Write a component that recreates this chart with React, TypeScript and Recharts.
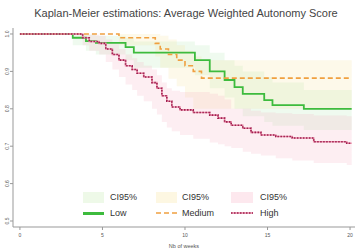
import React from "react";
import { ComposedChart, Line, Area, XAxis, YAxis } from "recharts";

// Low group (green)
const lowT = [0, 3.2, 4.0, 4.6, 6.4, 6.9, 10.6, 11.5, 12.4, 13.0, 13.5, 14.8, 15.3, 17.2, 20.1];
const lowS = [1.0, 0.99, 0.981, 0.976, 0.965, 0.95, 0.93, 0.9, 0.877, 0.858, 0.84, 0.823, 0.81, 0.8, 0.8];
const lowHi = [1.0, 1.0, 0.998, 0.995, 0.99, 0.98, 0.97, 0.95, 0.93, 0.915, 0.9, 0.885, 0.87, 0.85, 0.85];
const lowLo = [1.0, 0.97, 0.955, 0.945, 0.93, 0.91, 0.89, 0.855, 0.83, 0.8, 0.78, 0.765, 0.755, 0.743, 0.743];

// Medium group (orange)
const medT = [0, 6.0, 8.2, 8.5, 9.0, 9.5, 10.0, 10.5, 11.0, 20.1];
const medS = [1.0, 0.99, 0.975, 0.96, 0.945, 0.93, 0.915, 0.9, 0.882, 0.882];
const medHi = [1.0, 1.0, 1.0, 0.995, 0.985, 0.97, 0.955, 0.94, 0.93, 0.93];
const medLo = [1.0, 0.97, 0.94, 0.91, 0.88, 0.86, 0.83, 0.8, 0.8, 0.8];

// High group (maroon)
const highT = [0, 3.8, 4.2, 4.8, 5.2, 5.6, 6.0, 6.4, 6.8, 7.1, 7.5, 8.0, 8.3, 8.6, 8.9, 9.2, 9.7, 10.5, 11.5, 12.0, 12.4, 12.8, 13.5, 14.0, 14.6, 15.5, 16.5, 17.8, 19.8, 20.1];
const highS = [1.0, 0.99, 0.98, 0.975, 0.96, 0.945, 0.93, 0.915, 0.905, 0.895, 0.885, 0.87, 0.855, 0.835, 0.82, 0.805, 0.797, 0.79, 0.783, 0.775, 0.765, 0.756, 0.748, 0.737, 0.73, 0.726, 0.722, 0.712, 0.708, 0.708];
const highHi = [1.0, 1.0, 0.998, 0.995, 0.985, 0.975, 0.96, 0.945, 0.935, 0.925, 0.915, 0.905, 0.89, 0.87, 0.855, 0.848, 0.845, 0.845, 0.84, 0.835, 0.825, 0.8, 0.8, 0.795, 0.79, 0.788, 0.786, 0.782, 0.78, 0.78];
const highLo = [1.0, 0.97, 0.955, 0.945, 0.925, 0.905, 0.885, 0.865, 0.85, 0.835, 0.82, 0.8, 0.785, 0.765, 0.75, 0.74, 0.73, 0.72, 0.71, 0.705, 0.7, 0.695, 0.685, 0.68, 0.675, 0.668, 0.662, 0.655, 0.65, 0.65];

const xTicks = [0, 5, 10, 15, 20];
const yTicks = [0.5, 0.6, 0.7, 0.8, 0.9, 1.0];

const build = (t: number[], s: number[], lo: number[], hi: number[]) =>
  t.map((tt, i) => ({ t: tt, s: s[i], ci: [lo[i], hi[i]] }));

const lowData = build(lowT, lowS, lowLo, lowHi);
const medData = build(medT, medS, medLo, medHi);
const highData = build(highT, highS, highLo, highHi);

const FONT = "'Liberation Sans', Arial, sans-serif";

const YTick = (props: any) => {
  const { x, y, payload } = props;
  const bx = x + 1;
  return (
    <text x={bx} y={y} transform={`rotate(-90 ${bx} ${y})`} textAnchor="middle" fontSize={5} fill="#555" fontFamily={FONT}>
      {Number(payload.value).toFixed(1)}
    </text>
  );
};

const XTick = (props: any) => {
  const { x, y, payload } = props;
  return (
    <text x={x} y={y + 5} textAnchor="middle" fontSize={5} fill="#555" fontFamily={FONT}>
      {payload.value}
    </text>
  );
};

const legendText: React.CSSProperties = {
  position: "absolute",
  fontFamily: FONT,
  fontSize: 9,
  color: "#333",
  lineHeight: "10px",
};

export default function App() {
  return (
    <div style={{ position: "absolute", left: 0, top: 0, width: 361, height: 251, background: "#fff", overflow: "hidden" }}>
      <div style={{ position: "absolute", left: 0, top: 7, width: 372, textAlign: "center", fontFamily: FONT, fontSize: 11, color: "#444" }}>
        Kaplan-Meier estimations: Average Weighted Autonomy Score
      </div>
      <ComposedChart width={361} height={251} margin={{ top: 28, right: 6, bottom: 0, left: 0 }}>
        <XAxis
          type="number"
          dataKey="t"
          domain={[-0.42, 20.3]}
          ticks={xTicks}
          allowDataOverflow
          height={24}
          stroke="#999"
          tickSize={3}
          tick={<XTick />}
          label={{ value: "Nb of weeks", position: "insideBottom", offset: 3, fontSize: 5.5, fill: "#555", fontFamily: FONT }}
        />
        <YAxis
          type="number"
          domain={[0.484, 1.016]}
          ticks={yTicks}
          allowDataOverflow
          width={13}
          stroke="#999"
          tickSize={3}
          tick={<YTick />}
        />
        <Area data={lowData} dataKey="ci" type="stepAfter" stroke="none" fill="#9ee09e" fillOpacity={0.16} isAnimationActive={false} />
        <Area data={medData} dataKey="ci" type="stepAfter" stroke="none" fill="#f8e2a0" fillOpacity={0.22} isAnimationActive={false} />
        <Area data={highData} dataKey="ci" type="stepAfter" stroke="none" fill="#f4b0c4" fillOpacity={0.22} isAnimationActive={false} />
        <Line data={lowData} dataKey="s" type="stepAfter" stroke="#3dbb3d" strokeWidth={1.8} dot={false} isAnimationActive={false} />
        <Line data={medData} dataKey="s" type="stepAfter" stroke="#f0a040" strokeWidth={1.6} strokeDasharray="5 3" dot={false} isAnimationActive={false} />
        <Line data={highData} dataKey="s" type="stepAfter" stroke="#e890aa" strokeWidth={1.6} dot={false} isAnimationActive={false} />
        <Line data={highData} dataKey="s" type="stepAfter" stroke="#a02050" strokeWidth={1.6} strokeDasharray="1.5 1.5" dot={false} isAnimationActive={false} />
      </ComposedChart>
      {/* Legend */}
      <div style={{ position: "absolute", left: 83, top: 192, width: 21, height: 11, background: "#eef9e8" }} />
      <div style={{ ...legendText, left: 110, top: 192 }}>CI95%</div>
      <div style={{ position: "absolute", left: 83, top: 212, width: 21, height: 2.5, background: "#3dbb3d" }} />
      <div style={{ ...legendText, left: 110, top: 208 }}>Low</div>

      <div style={{ position: "absolute", left: 156, top: 192, width: 21, height: 11, background: "#fdf7e2" }} />
      <div style={{ ...legendText, left: 182, top: 192 }}>CI95%</div>
      <svg style={{ position: "absolute", left: 156, top: 210 }} width={22} height={6}>
        <line x1={0} y1={3} x2={22} y2={3} stroke="#f0a040" strokeWidth={1.6} strokeDasharray="5 3" />
      </svg>
      <div style={{ ...legendText, left: 182, top: 208 }}>Medium</div>

      <div style={{ position: "absolute", left: 231, top: 192, width: 22, height: 11, background: "#fde8ee" }} />
      <div style={{ ...legendText, left: 260, top: 192 }}>CI95%</div>
      <svg style={{ position: "absolute", left: 231, top: 210 }} width={22} height={6}>
        <line x1={0} y1={3} x2={22} y2={3} stroke="#e890aa" strokeWidth={1.6} />
        <line x1={0} y1={3} x2={22} y2={3} stroke="#a02050" strokeWidth={1.6} strokeDasharray="1.5 1.5" />
      </svg>
      <div style={{ ...legendText, left: 260, top: 208 }}>High</div>
    </div>
  );
}
